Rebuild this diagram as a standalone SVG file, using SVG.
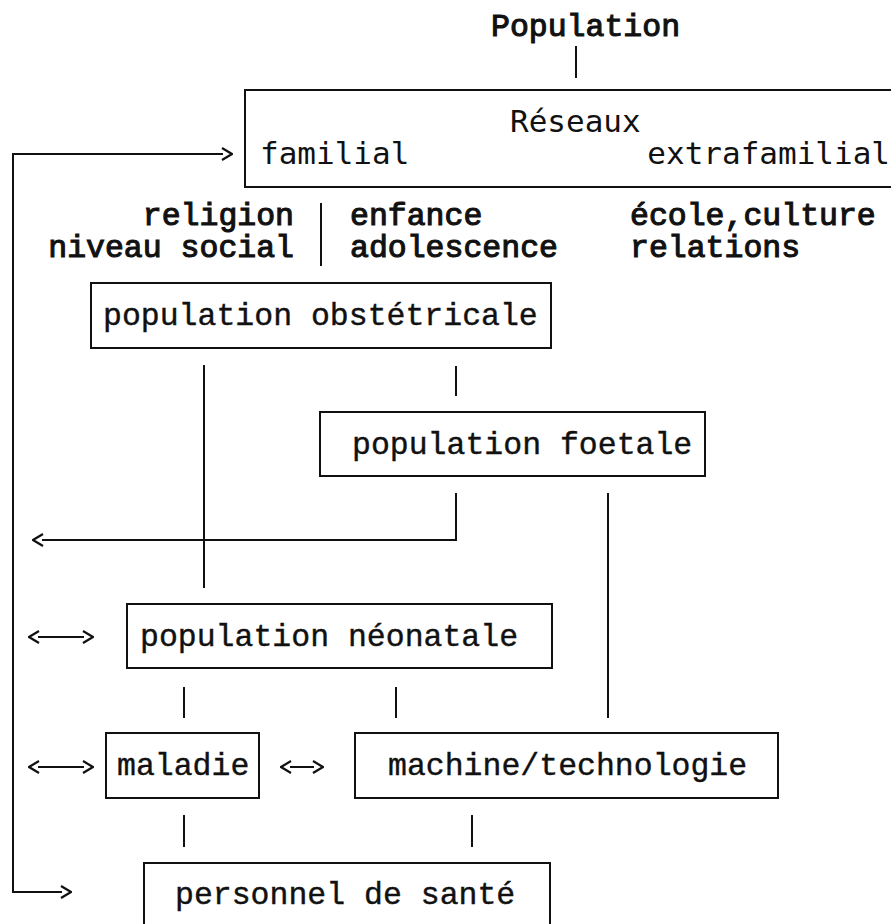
<svg xmlns="http://www.w3.org/2000/svg" width="891" height="924" viewBox="0 0 891 924">
<defs>
<style>
.bx{fill:none;stroke:#111;stroke-width:2}
.ln{fill:none;stroke:#111;stroke-width:2}
.t{font-family:"Liberation Mono","Courier New",monospace;font-size:31.5px;fill:#111;stroke:#111;stroke-width:0.4}
.tb{font-family:"Liberation Mono","Courier New",monospace;font-size:31.5px;fill:#111;stroke:#111;stroke-width:1.1}
.ts{font-family:"DejaVu Sans Mono","Liberation Mono",monospace;font-size:31px;fill:#111}
</style>
<marker id="chev" viewBox="0 0 12 14" markerWidth="12" markerHeight="14" refX="2" refY="7" orient="auto-start-reverse" markerUnits="userSpaceOnUse">
<path d="M1,1 L11,7 L1,13" fill="none" stroke="#111" stroke-width="2.2"/>
</marker>
</defs>
<rect width="891" height="924" fill="#fff"/>
<g id="title"><text class="tb" x="491" y="36">Population</text></g>
<g id="reseaux">
<rect class="bx" x="245" y="90" width="660" height="97"/>
<text class="ts" x="510" y="132">Réseaux</text>
<text class="ts" x="260" y="164">familial</text>
<text class="ts" x="890" y="164" text-anchor="end">extrafamilial</text>
</g>
<g id="facteurs">
<text class="tb" x="294" y="225" text-anchor="end">religion</text>
<text class="tb" x="294" y="257" text-anchor="end">niveau social</text>
<text class="tb" x="350" y="225">enfance</text>
<text class="tb" x="350" y="257">adolescence</text>
<text class="tb" x="630" y="225">école,culture</text>
<text class="tb" x="630" y="257">relations</text>
</g>
<g id="obstetricale">
<rect class="bx" x="91" y="283" width="460" height="65"/>
<text class="t" x="103" y="325">population obstétricale</text>
</g>
<g id="foetale">
<rect class="bx" x="320" y="412" width="385" height="64"/>
<text class="t" x="352" y="454">population foetale</text>
</g>
<g id="neonatale">
<rect class="bx" x="127" y="604" width="425" height="64"/>
<text class="t" x="140" y="646">population néonatale</text>
</g>
<g id="maladie">
<rect class="bx" x="106" y="733" width="153" height="65"/>
<text class="t" x="117" y="775">maladie</text>
</g>
<g id="machine">
<rect class="bx" x="355" y="733" width="423" height="65"/>
<text class="t" x="388" y="775">machine/technologie</text>
</g>
<g id="personnel">
<rect class="bx" x="144" y="863" width="406" height="66"/>
<text class="t" x="175" y="904">personnel de santé</text>
</g>
<g id="connectors">
<line class="ln" x1="576" y1="46" x2="576" y2="78"/>
<path class="ln" d="M223,154 H13 V892 H62" marker-start="url(#chev)" marker-end="url(#chev)"/>
<line class="ln" x1="321" y1="203" x2="321" y2="266"/>
<line class="ln" x1="204" y1="365" x2="204" y2="588"/>
<line class="ln" x1="456" y1="366" x2="456" y2="396"/>
<path class="ln" d="M456,493 V540 H42" marker-end="url(#chev)"/>
<line class="ln" x1="608" y1="493" x2="608" y2="718"/>
<path class="ln" d="M38,637 H84" marker-start="url(#chev)" marker-end="url(#chev)"/>
<line class="ln" x1="184" y1="687" x2="184" y2="718"/>
<line class="ln" x1="396" y1="687" x2="396" y2="718"/>
<path class="ln" d="M38,767 H84" marker-start="url(#chev)" marker-end="url(#chev)"/>
<path class="ln" d="M290,767 H314" marker-start="url(#chev)" marker-end="url(#chev)"/>
<line class="ln" x1="184" y1="815" x2="184" y2="847"/>
<line class="ln" x1="472" y1="815" x2="472" y2="847"/>
</g>
</svg>
